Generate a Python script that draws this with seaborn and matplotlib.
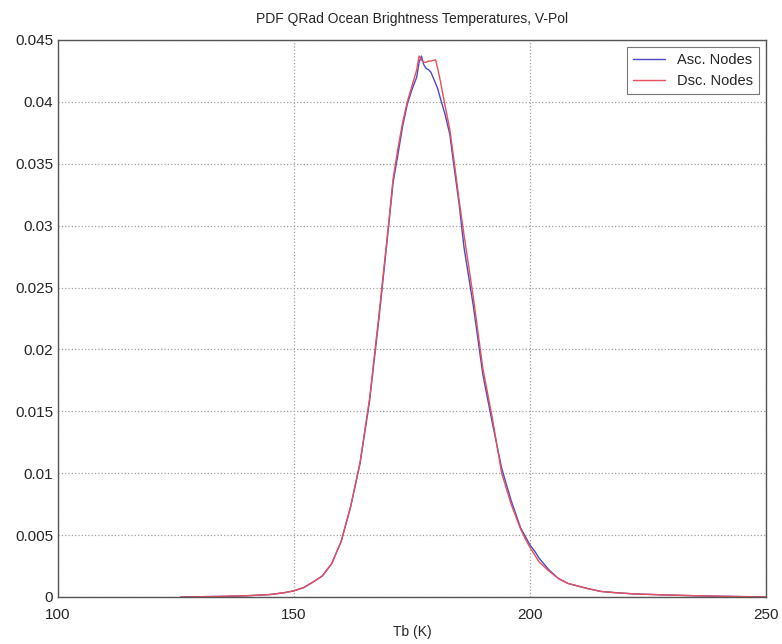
import matplotlib
matplotlib.use("Agg")
import matplotlib.pyplot as plt
import seaborn as sns
import numpy as np
import pandas as pd

# Brightness temperature grid (K)
tb = [126, 130, 135, 140, 145, 148, 150, 152, 154, 156, 158, 160, 162, 164, 166,
      168, 170, 171, 172, 173, 174, 175, 176, 176.5, 177, 177.5, 178, 178.5, 179,
      180, 180.5, 181, 182, 183, 184, 185, 186, 188, 190, 192, 194, 196, 198, 199,
      200, 201, 202, 204, 206, 208, 210, 212, 215, 218, 222, 226, 230, 235, 240,
      245, 250]

# PDF, ascending nodes
asc = [0.0, 0.00002, 0.00005, 0.0001, 0.0002, 0.00035, 0.0005, 0.00075, 0.0012,
       0.0017, 0.0027, 0.0045, 0.0073, 0.0108, 0.0158, 0.0225, 0.0298, 0.0335,
       0.0357, 0.0380, 0.0398, 0.0410, 0.0420, 0.0432, 0.0437, 0.0430, 0.0427,
       0.0426, 0.0424, 0.0415, 0.0410, 0.0403, 0.0390, 0.0374, 0.0345, 0.0317,
       0.0283, 0.0235, 0.0180, 0.0141, 0.0104, 0.0078, 0.0056, 0.0049, 0.0042,
       0.0037, 0.0031, 0.0022, 0.0015, 0.0011, 0.0009, 0.0007, 0.00045, 0.00035,
       0.00025, 0.0002, 0.00015, 0.0001, 0.00006, 0.00003, 0.00001]

# PDF, descending nodes
dsc = [0.0, 0.00002, 0.00005, 0.0001, 0.0002, 0.00035, 0.0005, 0.00075, 0.0012,
       0.0017, 0.0027, 0.0045, 0.0073, 0.0109, 0.0160, 0.0228, 0.0300, 0.0338,
       0.0362, 0.0383, 0.0400, 0.0413, 0.0426, 0.0437, 0.0434, 0.0432, 0.0432,
       0.0433, 0.0433, 0.0434, 0.0426, 0.0417, 0.0397, 0.0378, 0.0350, 0.0320,
       0.0293, 0.0242, 0.0185, 0.0145, 0.0100, 0.0075, 0.0055, 0.0047, 0.0040,
       0.0034, 0.0028, 0.0021, 0.0015, 0.0011, 0.0009, 0.0007, 0.00045, 0.00035,
       0.00025, 0.0002, 0.00015, 0.0001, 0.00006, 0.00003, 0.00001]

labels = ["Asc. Nodes", "Dsc. Nodes"]

df = pd.concat([
    pd.DataFrame({"Tb": tb, "pdf": asc, "node": labels[0]}),
    pd.DataFrame({"Tb": tb, "pdf": dsc, "node": labels[1]}),
])

sns.set_style("white")
plt.rcParams['font.family'] = ['Liberation Sans', 'DejaVu Sans']

fig = plt.figure(figsize=(7.82, 6.44), dpi=100)
ax = fig.add_axes([0.0742, 0.073, 0.9053, 0.8649])

sns.lineplot(data=df, x="Tb", y="pdf", hue="node", palette=["#4a4ac8", "#e8505a"],
             linewidth=1.0, ax=ax, sort=False)

ax.set_xlim(100, 250)
ax.set_ylim(0, 0.045)
ax.set_xticks([100, 150, 200, 250])
ax.set_yticks(np.arange(0, 0.0451, 0.005))
ax.set_yticklabels(["0", "0.005", "0.01", "0.015", "0.02", "0.025", "0.03",
                    "0.035", "0.04", "0.045"])
ax.grid(True, linestyle=":", color="#a0a0a0", linewidth=0.9)
ax.tick_params(direction="in", length=4, labelsize=11, color="#444444")
ax.tick_params(axis="x", pad=8)
for s in ax.spines.values():
    s.set_color("#555555")
    s.set_linewidth(1.0)

ax.set_title("PDF QRad Ocean Brightness Temperatures, V-Pol", fontsize=10, pad=12)
ax.set_xlabel("Tb (K)", fontsize=10, labelpad=2)
ax.set_ylabel("")

leg = ax.legend(loc="upper right", fontsize=10.5, frameon=True, fancybox=False,
                edgecolor="#555555", borderaxespad=0.5, handlelength=2.2)
leg.get_frame().set_linewidth(0.8)

fig.savefig("out.png", dpi=100)
